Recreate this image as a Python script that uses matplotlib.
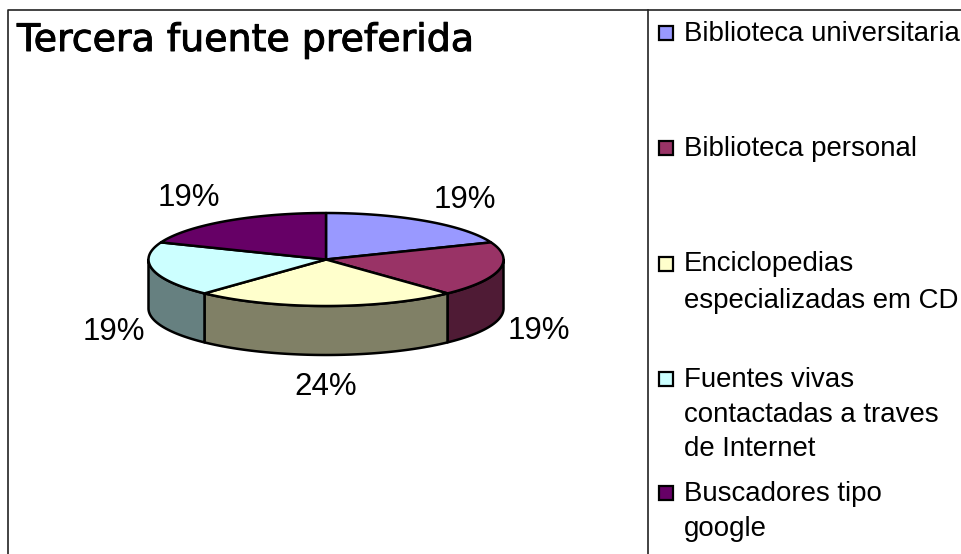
import numpy as np
import matplotlib
matplotlib.use("Agg")
import matplotlib.pyplot as plt
import matplotlib.patheffects as pe
from matplotlib.patches import Polygon, Rectangle

plt.rcParams["font.family"] = ["Liberation Sans", "DejaVu Sans"]

title = "Tercera fuente preferida"
categories = ["Biblioteca universitaria", "Biblioteca personal",
              "Enciclopedias\nespecializadas em CD", "Fuentes vivas\ncontactadas a traves\nde Internet",
              "Buscadores tipo\ngoogle"]
values = [19, 19, 24, 19, 19]
colors = ["#9999FF", "#993366", "#FFFFCC", "#CCFFFF", "#660066"]
side_colors = ["#4C4C80", "#4F1B35", "#808066", "#668080", "#330033"]

label_xy = [(465, 200), (539, 331), (326, 387), (114, 332), (189, 198)]
legend_y = [33, 148, 264, 379, 493]
legend_text_y = [21, 136, 251, 367, 481]
legend_spacing = [1.41, 1.41, 1.57, 1.43, 1.45]

CX, CY, RX, RY, DEPTH = 326, 259.5, 177.5, 46.5, 49


def rim(a0, a1, drop=0):
    t = np.radians(np.linspace(a0, a1, 80))
    return np.column_stack([CX + RX * np.sin(t), CY - RY * np.cos(t) + drop])


def main():
    fig = plt.figure(figsize=(9.62, 5.54), dpi=100)
    ax = fig.add_axes([0, 0, 1, 1])
    ax.set_xlim(0, 962)
    ax.set_ylim(554, 0)
    ax.axis("off")

    # frame
    ax.plot([8, 8, 962], [554, 10, 10], color="#222222", lw=1.2)
    ax.plot([648, 648], [10, 554], color="#222222", lw=1.2)

    ax.text(17, 41, title, family="DejaVu Sans", fontsize=27.3, va="center", color="black",
            path_effects=[pe.withStroke(linewidth=0.7, foreground="black")])

    # slice angles, clockwise from the top
    edges = np.concatenate([[0], np.cumsum(values)]) / sum(values) * 360

    # side walls, only the front half shows
    for i in range(len(values)):
        a0, a1 = max(edges[i], 90), min(edges[i + 1], 270)
        if a1 <= a0:
            continue
        pts = np.vstack([rim(a0, a1), rim(a0, a1, DEPTH)[::-1]])
        ax.add_patch(Polygon(pts, closed=True, fc=side_colors[i], ec="black", lw=1.8, joinstyle="round"))

    # top faces
    for i in range(len(values)):
        pts = np.vstack([[CX, CY], rim(edges[i], edges[i + 1])])
        ax.add_patch(Polygon(pts, closed=True, fc=colors[i], ec="black", lw=1.8, joinstyle="round"))

    for v, (x, y) in zip(values, label_xy):
        ax.text(x, y, f"{v}%", fontsize=22.5, ha="center", va="center", color="black")

    # legend
    for cat, col, my, ty, sp in zip(categories, colors, legend_y, legend_text_y, legend_spacing):
        ax.add_patch(Rectangle((659.5, my - 7), 14, 14, fc=col, ec="black", lw=1.6))
        ax.text(684, ty, cat, fontsize=19.9, va="top", ha="left", linespacing=sp, color="black")

    fig.savefig("out.png", dpi=100)


if __name__ == "__main__":
    main()
